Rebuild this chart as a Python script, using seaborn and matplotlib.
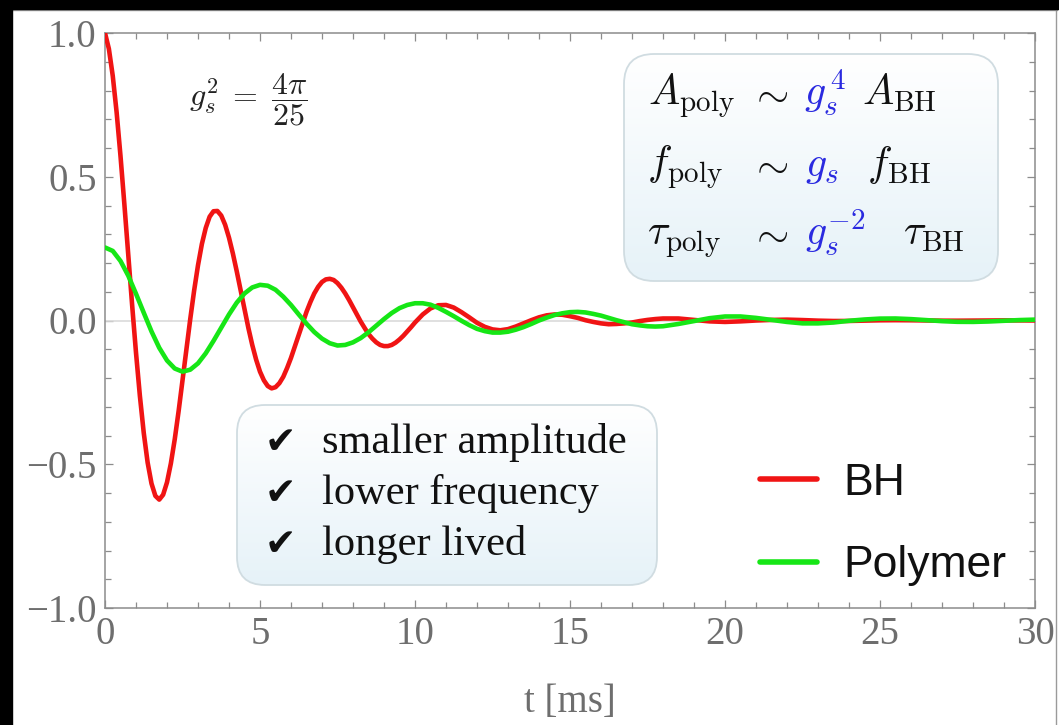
import matplotlib
matplotlib.use('Agg')
import numpy as np
import pandas as pd
import seaborn as sns
import matplotlib.pyplot as plt
from matplotlib.patches import FancyBboxPatch, Rectangle
from matplotlib.lines import Line2D
from matplotlib.colors import LinearSegmentedColormap
from matplotlib.ticker import MultipleLocator
from matplotlib.transforms import IdentityTransform

# ---------------- data ----------------
t_bh = [0.0, 0.125, 0.25, 0.375, 0.5, 0.625, 0.75, 0.875, 1.0, 1.125,
        1.25, 1.375, 1.5, 1.625, 1.75, 1.875, 2.0, 2.125, 2.25, 2.375,
        2.5, 2.625, 2.75, 2.875, 3.0, 3.125, 3.25, 3.375, 3.5, 3.625,
        3.75, 3.875, 4.0, 4.125, 4.25, 4.375, 4.5, 4.625, 4.75, 4.875,
        5.0, 5.125, 5.25, 5.375, 5.5, 5.625, 5.75, 5.875, 6.0, 6.125,
        6.25, 6.375, 6.5, 6.625, 6.75, 6.875, 7.0, 7.125, 7.25, 7.375,
        7.5, 7.625, 7.75, 7.875, 8.0, 8.125, 8.25, 8.375, 8.5, 8.625,
        8.75, 8.875, 9.0, 9.125, 9.25, 9.375, 9.5, 9.625, 9.75, 9.875,
        10.0, 10.25, 10.5, 10.75, 11.0, 11.25, 11.5, 11.75, 12.0, 12.25,
        12.5, 12.75, 13.0, 13.25, 13.5, 13.75, 14.0, 14.25, 14.5, 14.75,
        15.0, 15.25, 15.5, 15.75, 16.0, 16.25, 16.5, 16.75, 17.0, 17.25,
        17.5, 17.75, 18.0,
        18.5, 19.0, 19.5, 20.0, 20.5, 21.0, 21.5, 22.0, 22.5, 23.0,
        23.5, 24.0, 24.5, 25.0, 25.5, 26.0, 26.5, 27.0, 27.5, 28.0,
        28.5, 29.0, 29.5, 30.0]

bh_strain = [1.000, 0.945, 0.851, 0.724, 0.572, 0.404, 0.229, 0.054, -0.112, -0.262,
             -0.391, -0.494, -0.567, -0.610, -0.623, -0.606, -0.563, -0.497, -0.413, -0.315,
             -0.209, -0.101, 0.005, 0.104, 0.192, 0.266, 0.322, 0.361, 0.380, 0.381,
             0.365, 0.333, 0.288, 0.233, 0.171, 0.105, 0.038, -0.026, -0.085, -0.136,
             -0.178, -0.208, -0.228, -0.236, -0.232, -0.218, -0.196, -0.165, -0.130, -0.090,
             -0.049, -0.009, 0.030, 0.064, 0.094, 0.117, 0.134, 0.143, 0.145, 0.141,
             0.130, 0.114, 0.094, 0.071, 0.046, 0.021, -0.004, -0.026, -0.047, -0.063,
             -0.076, -0.085, -0.089, -0.089, -0.085, -0.077, -0.066, -0.053, -0.038, -0.023,
             -0.007, 0.021, 0.042, 0.053, 0.054, 0.045, 0.029, 0.011, -0.008, -0.022,
             -0.031, -0.034, -0.030, -0.021, -0.010, 0.001, 0.011, 0.018, 0.021, 0.020,
             0.015, 0.009, 0.001, -0.005, -0.010, -0.013, -0.012, -0.010, -0.007, -0.002,
             0.002, 0.005, 0.007,
             0.007, 0.002, -0.003, -0.005, -0.003, 0.000, 0.002, 0.003, 0.0015, -0.0005,
             -0.0017, -0.0016, -0.0005, 0.0007, 0.0011, 0.0008, 0.0, -0.0006, -0.0007, -0.0003,
             0.0001, 0.0004, 0.0004, 0.0001]

t_poly = [0.0, 0.25, 0.5, 0.75, 1.0, 1.25, 1.5, 1.75, 2.0, 2.25,
          2.5, 2.75, 3.0, 3.25, 3.5, 3.75, 4.0, 4.25, 4.5, 4.75,
          5.0, 5.25, 5.5, 5.75, 6.0, 6.25, 6.5, 6.75, 7.0, 7.25,
          7.5, 7.75, 8.0, 8.25, 8.5, 8.75, 9.0, 9.25, 9.5, 9.75,
          10.0, 10.25, 10.5, 10.75, 11.0, 11.25, 11.5, 11.75, 12.0, 12.25,
          12.5, 12.75, 13.0, 13.25, 13.5, 13.75, 14.0, 14.25, 14.5, 14.75,
          15.0, 15.25, 15.5, 15.75, 16.0, 16.25, 16.5, 16.75, 17.0, 17.25,
          17.5, 17.75, 18.0,
          18.5, 19.0, 19.5, 20.0, 20.5, 21.0, 21.5, 22.0, 22.5, 23.0,
          23.5, 24.0, 24.5, 25.0, 25.5, 26.0, 26.5, 27.0, 27.5, 28.0,
          28.5, 29.0, 29.5, 30.0]

polymer_strain = [0.254, 0.242, 0.207, 0.156, 0.093, 0.027, -0.038, -0.095, -0.139, -0.167,
                  -0.178, -0.171, -0.149, -0.114, -0.071, -0.025, 0.021, 0.062, 0.094, 0.115,
                  0.124, 0.121, 0.107, 0.083, 0.054, 0.021, -0.011, -0.040, -0.063, -0.079,
                  -0.087, -0.085, -0.076, -0.061, -0.041, -0.018, 0.005, 0.026, 0.043, 0.054,
                  0.060, 0.060, 0.055, 0.044, 0.030, 0.015, -0.001, -0.016, -0.029, -0.037,
                  -0.042, -0.042, -0.039, -0.032, -0.023, -0.012, 0.000, 0.010, 0.019, 0.025,
                  0.029, 0.030, 0.028, 0.023, 0.017, 0.009, 0.001, -0.006, -0.013, -0.017,
                  -0.020, -0.021, -0.020,
                  -0.012, -0.002, 0.008, 0.014, 0.014, 0.009, 0.002, -0.005, -0.010, -0.010,
                  -0.007, -0.001, 0.0035, 0.0066, 0.0070, 0.0048, 0.0013, -0.0023, -0.0046, -0.0049,
                  -0.0035, -0.0010, 0.0015, 0.0031]

series_names = ['BH', 'Polymer']
series_colors = {'BH': '#f01414', 'Polymer': '#16e616'}

x_ticks = [0, 5, 10, 15, 20, 25, 30]
x_tick_labels = ['0', '5', '10', '15', '20', '25', '30']
y_ticks = [-1.0, -0.5, 0.0, 0.5, 1.0]
y_tick_labels = ['\u22121.0', '\u22120.5', '0.0', '0.5', '1.0']
x_label = 't [ms]'

coupling_label = r'$g_s^2\;=\;\dfrac{4\pi}{25}$'
scaling_rows = [
    [(r'$A_{\mathrm{poly}}$', 'k'), (r'$\sim$', 'k'), (r'$g_s^{\,4}$', 'b'), (r'$A_{\mathrm{BH}}$', 'k')],
    [(r'$f_{\mathrm{poly}}$', 'k'), (r'$\sim$', 'k'), (r'$g_s$', 'b'), (r'$f_{\mathrm{BH}}$', 'k')],
    [(r'$\tau_{\mathrm{poly}}$', 'k'), (r'$\sim$', 'k'), (r'$g_s^{-2}$', 'b'), (r'$\tau_{\mathrm{BH}}$', 'k')],
]
check_items = ['smaller amplitude', 'lower frequency', 'longer lived']

# ---------------- style ----------------
sns.set_style('white')
plt.rcParams['font.family'] = ['Liberation Serif', 'DejaVu Sans']
plt.rcParams['mathtext.fontset'] = 'cm'
plt.rcParams['axes.unicode_minus'] = True

W, H = 1059, 725
fig = plt.figure(figsize=(W / 100, H / 100), dpi=100)
fig.patch.set_facecolor('white')
ax = fig.add_axes([105 / W, 1 - 608 / H, 930 / W, 575 / H])
ax.set_facecolor('white')

df = pd.concat([
    pd.DataFrame({'t': t_bh, 'h': bh_strain, 'series': 'BH'}),
    pd.DataFrame({'t': t_poly, 'h': polymer_strain, 'series': 'Polymer'}),
], ignore_index=True)
sns.lineplot(data=df, x='t', y='h', hue='series', hue_order=series_names,
             palette=series_colors, linewidth=3.3, estimator=None, errorbar=None,
             ax=ax, zorder=3)

old_leg = ax.get_legend()
handles = list(old_leg.legend_handles)
labels = [tx.get_text() for tx in old_leg.get_texts()]
old_leg.remove()

ax.axhline(0, color='#dadada', lw=1.2, zorder=1)

ax.set_xlim(0, 30)
ax.set_ylim(-1, 1)
ax.set_xticks(x_ticks, x_tick_labels)
ax.set_yticks(y_ticks, y_tick_labels)
ax.xaxis.set_minor_locator(MultipleLocator(1))
ax.yaxis.set_minor_locator(MultipleLocator(0.1))
ax.tick_params(which='both', direction='in', bottom=True, left=True, top=True, right=True,
               color='#8c8c8c', width=0.9)
ax.tick_params(which='major', length=6, labelsize=28, labelcolor='#6e6e6e', pad=6)
ax.tick_params(which='minor', length=4)
for sp in ax.spines.values():
    sp.set_visible(True)
    sp.set_color('#8c8c8c')
    sp.set_linewidth(1.1)
ax.set_xlabel(x_label, fontsize=28, color='#6e6e6e', labelpad=22)
ax.set_ylabel('')

# ---------------- legend ----------------
leg = fig.legend(handles, labels, loc='upper left', bbox_to_anchor=(760 / W, 1 - 463 / H),
                 frameon=False, prop={'family': 'Liberation Sans', 'size': 32},
                 handlelength=1.28, handletextpad=0.6, labelspacing=0.93,
                 borderpad=0, borderaxespad=0)
for h in leg.legend_handles:
    h.set_linewidth(4)
for tx in leg.get_texts():
    tx.set_color('#111111')

# ---------------- gradient boxes ----------------
box_cmap = LinearSegmentedColormap.from_list('boxgrad', ['#e6f2f8', '#ffffff'])


def gradient_box(x0, y0, x1, y1, r):
    patch = FancyBboxPatch((x0, H - y1), x1 - x0, y1 - y0,
                           boxstyle=f'round,pad=0,rounding_size={r}',
                           transform=IdentityTransform(), facecolor='none',
                           edgecolor='#d0dce1', lw=1.3, zorder=2)
    fig.add_artist(patch)
    inv = ax.transData.inverted()
    dx0, dy0 = inv.transform((x0, H - y1))
    dx1, dy1 = inv.transform((x1, H - y0))
    grad = np.linspace(0, 1, 256).reshape(-1, 1)
    im = ax.imshow(grad, extent=[dx0, dx1, dy0, dy1], origin='lower', aspect='auto',
                   cmap=box_cmap, zorder=1.5, interpolation='bilinear')
    im.set_clip_path(patch)


gradient_box(624, 54, 998, 281, 30)
gradient_box(237, 405, 657, 585, 28)
ax.set_xlim(0, 30)
ax.set_ylim(-1, 1)


def ftext(x, y, s, **kw):
    return fig.text(x / W, 1 - y / H, s, **kw)


# coupling annotation
ftext(248, 100, coupling_label, fontsize=23, ha='center', va='center', color='#222222')

# scaling relations box
row_baselines = [105, 176, 245]
row_starts = [[648, 749, 804, 862], [647, 749, 805, 867], [647, 749, 805, 903]]
color_map = {'k': '#111111', 'b': '#2a2ae0'}
for row, yb, xs in zip(scaling_rows, row_baselines, row_starts):
    for (s, c), x in zip(row, xs):
        ftext(x, yb, s, fontsize=30, ha='left', va='baseline', color=color_map[c])

# check list box
for item, yb in zip(check_items, [453, 504, 555]):
    ftext(265, yb, '\u2714', fontsize=27, ha='left', va='baseline', color='#111111',
          family=['DejaVu Sans'])
    ftext(322, yb, item, fontsize=30.5, ha='left', va='baseline', color='#111111',
          family=['Liberation Serif'])

# frame of the slide
fig.add_artist(Rectangle((0, 1 - 9 / H), 1, 9 / H, transform=fig.transFigure,
                         color='black', zorder=10))
fig.add_artist(Rectangle((0, 0), 12 / W, 1, transform=fig.transFigure,
                         color='black', zorder=10))
fig.add_artist(Line2D([12 / W, 1057 / W], [1 - 10 / H, 1 - 10 / H],
                      transform=fig.transFigure, color='#9a9a9a', lw=1, zorder=9))
fig.add_artist(Line2D([1056 / W, 1056 / W], [0, 1 - 9 / H],
                      transform=fig.transFigure, color='#9a9a9a', lw=1, zorder=9))

fig.savefig('out.png', dpi=100, facecolor='white')
